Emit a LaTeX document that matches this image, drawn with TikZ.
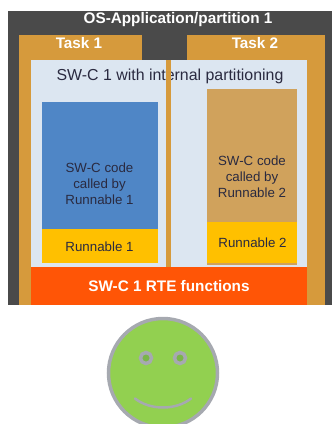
\documentclass[tikz,border=0pt]{standalone}
\usepackage{fontspec}
\setmainfont{Liberation Sans}
\definecolor{darkbg}{HTML}{4A4A4A}
\definecolor{taskc}{HTML}{D69A3C}
\definecolor{lightc}{HTML}{DCE6F1}
\definecolor{bluec}{HTML}{4F86C6}
\definecolor{tanc}{HTML}{D0A25C}
\definecolor{yellowc}{HTML}{FFC000}
\definecolor{redc}{HTML}{FF5506}
\definecolor{greenc}{HTML}{92D050}
\definecolor{greyc}{HTML}{A6A9B0}
\definecolor{eyec}{HTML}{7AB648}
\definecolor{inkc}{HTML}{2A2A40}
\tikzset{
  box/.style={fill=#1,draw=none},
  head/.style={text=white,font=\bfseries\fontsize{15.3}{17}\selectfont,inner sep=0pt},
  body/.style={text=inkc,font=\fontsize{13.3}{15.8}\selectfont,inner sep=0pt,align=center},
  face/.style={fill=greenc,draw=greyc,line width=3.5pt},
  eyeball/.style={fill=eyec,draw=greyc,line width=3.5pt},
  featline/.style={draw=greyc,line width=2.5pt,line cap=round}
}
\begin{document}
\begin{tikzpicture}[x=1pt,y=-1pt]
\useasboundingbox (0,0) rectangle (332,424);
\clip (0,0) rectangle (332,424);
\fill[box=darkbg] (8,11) rectangle (332,305);
\fill[box=taskc] (19,35) rectangle (142,305);
\fill[box=taskc] (187,35) rectangle (325,305);
\fill[box=lightc] (31,60) rectangle (307,267);
\fill[box=bluec] (42,102) rectangle (158,229);
\fill[box=yellowc] (42,229) rectangle (158,263);
\fill[box=tanc] (207,89) rectangle (297,265);
\fill[box=yellowc] (207,222) rectangle (297,263);
\fill[box=redc] (31,267) rectangle (307,305);
\node[head] (title) at (178,20) {OS-Application/partition 1};
\node[head] (task1) at (79,43.5) {Task 1};
\node[head] (task2) at (255,43.5) {Task 2};
\node[text=inkc,font=\fontsize{15.9}{18}\selectfont,inner sep=0pt] (swc) at (170,76) {SW-C 1 with internal partitioning};
\fill[box=taskc] (166,60) rectangle (171,267);
\node[body] (code1) at (99.5,184) {SW-C code\\called by\\Runnable 1};
\node[body] (code2) at (252,177) {SW-C code\\called by\\Runnable 2};
\node[body] (run1) at (99.5,247) {Runnable 1};
\node[body] (run2) at (252.5,243) {Runnable 2};
\node[head] (rte) at (169,286) {SW-C 1 RTE functions};
\draw[face] (163,373) circle (54.5);
\draw[eyeball] (146,358) circle (5.5);
\draw[eyeball] (180,358) circle (5.5);
\draw[featline] (135,398.5) .. controls (150,410.5) and (176,410.5) .. (191,398.5);
\end{tikzpicture}
\end{document}
